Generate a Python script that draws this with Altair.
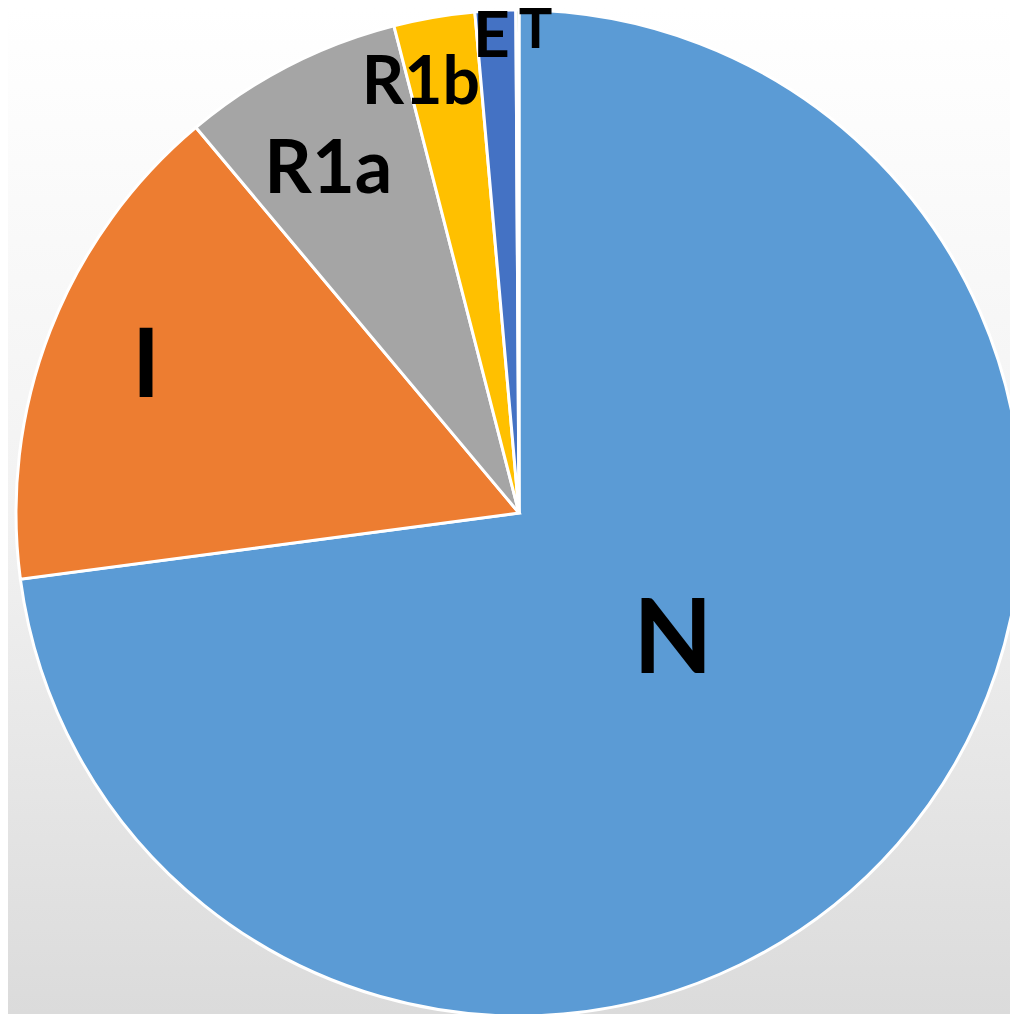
import altair as alt
import pandas as pd

categories = ["N", "I", "R1a", "R1b", "E", "T"]
values = [72.9, 16.0, 7.1, 2.6, 1.3, 0.1]
colors = ["#5B9BD5", "#ED7D31", "#A5A5A5", "#FFC000", "#4472C4", "#70AD47"]

df = pd.DataFrame({"cat": categories, "value": values, "idx": list(range(len(categories)))})

W, H = 1002, 1006
CX, CY, R = 511, 505, 503

theta = alt.Theta("value:Q", stack=True)
order = alt.Order("idx:Q", sort="ascending")

bg = alt.Chart(alt.Data(values=[{"a": 1}])).mark_rect(
    color=alt.LinearGradient(
        gradient="linear",
        stops=[
            alt.GradientStop(color="#FFFFFF", offset=0),
            alt.GradientStop(color="#F2F2F2", offset=0.5),
            alt.GradientStop(color="#DBDBDB", offset=1),
        ],
        x1=0, x2=0, y1=0, y2=1,
    )
).encode(x=alt.value(0), x2=alt.value(W), y=alt.value(0), y2=alt.value(H))

pie = alt.Chart(df).mark_arc(radius=R, stroke="white", strokeWidth=3).encode(
    theta=theta,
    order=order,
    color=alt.Color("cat:N", scale=alt.Scale(domain=categories, range=colors), legend=None),
    x=alt.value(CX),
    y=alt.value(CY),
)

# label styling per category: (radius, fontSize, dx, dy)
label_style = {
    "N": (202, 103, 2, -4),
    "I": (400, 95, 0, 0),
    "R1a": (391, 74, -12, 6),
    "R1b": (439, 66, -24, 4),
    "E": (478, 64, -5, 2),
    "T": (484, 56, 18, 2),
}

layers = [bg, pie]
for c in categories:
    r, fs, dx, dy = label_style[c]
    layers.append(
        alt.Chart(df).mark_text(
            radius=r, fontSize=fs, fontWeight="bold", font="Lato", color="black",
            dx=dx, dy=dy, align="center", baseline="middle",
        ).encode(
            theta=theta,
            order=order,
            text=alt.condition(alt.datum.cat == c, "cat:N", alt.value("")),
            x=alt.value(CX),
            y=alt.value(CY),
        )
    )

chart = alt.layer(*layers).properties(
    width=W, height=H,
    autosize=alt.AutoSizeParams(type="none"),
    padding=0,
    background="white",
).configure_view(stroke=None)

chart.save("out.html", embed_options={"renderer": "svg", "actions": False})
